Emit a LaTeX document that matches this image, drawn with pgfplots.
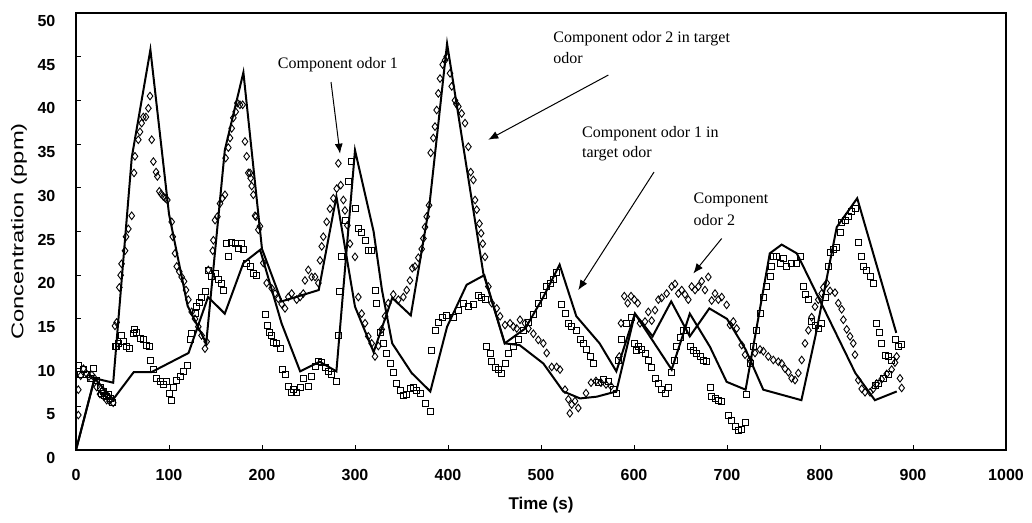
\documentclass[border=0pt]{standalone}
\usepackage{fontspec}
\setmainfont{Liberation Serif}
\setsansfont{Liberation Sans}
\usepackage{pgfplots}
\pgfplotsset{compat=1.18}
\usetikzlibrary{arrows.meta}

\begin{document}
\begin{tikzpicture}
\begin{axis}[
  scale only axis, width=465pt, height=218.5pt,
  xmin=0, xmax=1000, ymin=0, ymax=50,
  xtick={0,100,...,1000}, ytick={0,5,...,50},
  xtick pos=bottom, ytick pos=left, tick align=inside,
  major tick length=2.5pt, tick style={black, line width=0.5pt},
  axis line style={black, line width=0.6pt},
  /pgf/number format/assume math mode=true,
  /pgf/number format/1000 sep={},
  ticklabel style={font=\sffamily\bfseries\fontsize{8}{9}\selectfont},
  xticklabel style={yshift=-6pt},
  yticklabel style={xshift=-6.8pt, yshift=-4pt},
  clip=false,
]
% measured, component odor 2 (diamonds)
\addplot[only marks, mark=diamond, mark size=1.9pt, mark options={black, line width=0.45pt}] coordinates {
(2.5,4.0)(2.5,6.9)(5,8.5)(8,9.3)(11.5,8.7)(14,8.4)(17,8.6)(20,8.2)(22.2,7.2)(25.8,6.4)(27.6,6.7)(30,6.1)(33,5.7)(36,5.6)(40,5.4)
(41.9,14.2)(43.7,14.6)(46.6,18.6)(48,20)(49,21.3)(52.7,22.8)(53.8,24.4)(56.3,25.3)(59.9,26.8)(62.4,31.7)(63.4,33.6)(67,35.5)(68.8,36.4)(70.6,37.4)(72.4,38.1)(75.2,38.1)(77.8,39.1)(79.6,40.5)(81.4,35.5)(83.2,33)(86.1,31.8)(87.5,31.3)(89.6,29.6)(91.5,29.3)(93.9,29)(96,28.8)(98.2,28.6)(102.9,26.1)(104,24.4)(106.5,22.5)(108.3,21)(111.1,20.4)(113.6,19.8)(116.2,19.3)(118.3,18.3)(120.8,17.2)(124.4,15.8)(128,15)(131.5,14.1)(135.1,13.1)(138.7,11.6)(140.5,12.4)
(142.3,20.6)(147,22.8)(147.7,24)(149.5,26.3)(152,26.7)(154.8,28.2)(157.3,28.8)(160.2,29.2)(160.9,33.4)(163.8,34.6)(165.6,35.7)(167.4,36.8)(169.2,38)(171.7,38.7)(173.5,39.7)(176.3,39.5)(179.2,39.5)(181.7,35.3)(183.5,33.6)(185.3,31.7)(187.1,31.7)(187.8,31.1)(188.9,30.2)(190.7,29.2)(192.5,26.8)(193.5,26.7)(196.1,25.2)(197.8,25.6)
(201.4,21.4)(205,19.1)(210.4,18.5)(214,17.9)(217.6,17.3)(221.2,16.7)(224.7,16.2)(228.3,17.5)(231.9,17.9)(237.3,17.2)(240.9,17.5)(244.4,17.9)(246.2,19.4)(249.8,20.6)(253.4,19.8)(257,19.8)(260.6,19.1)(262.4,21.7)(264.2,23.3)(265.9,24.4)(269.5,26.1)(273.1,27.6)(276.7,28.8)(280.3,29.9)(282.1,32.8)(284.6,30.3)(287.5,28.6)(289.2,27.4)(291.8,25.7)(294.6,23.6)(300,22.1)(303.6,17.5)(307.2,15.6)(310.8,14.5)(314.3,13)(317.9,12.2)(321.5,10.7)(325.1,11.9)(328.7,13.8)(332.3,15.3)(335.8,16.8)(341.2,17.8)(346.6,17.2)(352,17.5)(355.6,18.3)(359.1,19.4)(361.6,20.8)(364.5,21)(368.1,22)(371.7,23)(373.5,24.2)(375.3,25.5)(377.1,26.7)(379.6,28)(381.4,34)(384.2,35.7)(386,37)(387.8,38.9)(389.6,40.8)(391.4,42.5)(394.3,44.1)(396.8,44.6)
(398.6,45)(402.2,43.1)(404,41.6)(407.5,40)(409,39.6)(411.1,39.3)(414.7,38.5)(418.3,37.4)(421.9,34.7)(424.4,31.8)(427.3,30.9)(429.1,28.6)(430.9,27.5)(433.8,25.9)(435.6,24.8)(437.4,23.6)(439.8,22.1)(443.4,18.7)(447,16.8)(452.4,16.2)(456,15.3)(461.3,14.3)(466.7,14.5)(470.3,14.1)(473.9,13.9)(477.4,14.9)(482.8,14.5)(486.4,13.9)(491.8,13.3)(497.1,12.6)(502.5,12.2)(506.1,11.1)(511.5,9.5)(516.8,9.5)(520.4,9.2)(525.8,6.9)(529.4,5.8)(531,4.2)(533,5.2)(536.6,5.6)(540.1,4.8)(548.4,6.5)(553.8,7.7)(559.1,7.9)(564.5,7.7)(569.9,7.5)(575.3,7.3)(584.2,10.7)(586,14.5)(589.6,17.6)(593.2,16.8)(596.8,17.6)(600.4,17.2)(604,16.8)
(606.5,14.5)(611.8,14.7)(615.4,15.8)(619,14.8)(622.6,16)(626.2,17.2)(629.7,17.4)(635.1,17.9)(640.5,18.7)(644.1,19)(647.7,17.9)(651.3,18.3)(654.8,17.8)(658.4,17.2)(662,18.7)(665.6,18.3)(669.2,18.7)(672.8,19.3)(676.3,18.3)(679.9,19.8)(683.5,17.1)(687.1,17.9)(690.7,17.2)(694.3,17.5)(699.6,16.6)(703.2,14.3)(706.8,14.7)(710.4,13.9)(715.8,12)(719.4,10.9)(724.7,10.3)(730.1,11.1)(735.5,11.5)(739.1,11.3)(744.4,10.7)(749.8,10.3)(755.2,10.1)(758.8,9.9)(762.4,9.3)(766,8.9)(769.5,8.2)(773.1,8)(776.7,8.8)(780.3,10.3)(783.9,12.2)(787.5,13.7)(791,15.2)(794.6,16.4)(798.2,17.2)(801.8,17.9)(803.6,18.6)(807.2,19.1)(810.8,18.2)(816.1,18)(819.7,16.8)(823.3,16.1)(825.1,14.9)(828.7,13.8)(832.3,13)(835.8,12.2)(837.6,10.9)(841.2,8)(844.8,7)(848.4,6.6)(853.8,6.6)(857.3,7)(860.9,7.6)(866.3,8.1)(871.7,8.7)(877,9.2)(880.6,10)(882.4,10.7)(886,8.2)(887.8,7.1)
};
% measured, component odor 1 (squares)
\addplot[only marks, mark=square, mark size=1.5pt, mark options={black, line width=0.45pt}] coordinates {
(2.5,9.7)(4.3,8.6)(7.9,9.2)(11.5,8.6)(15,8.2)(18.6,9.3)(22.2,8)(25.8,7.1)(27,6.5)(29.4,6.7)(31,6.2)(33,6.1)(35,6.3)(36.6,5.9)(39.4,5.4)
(41.9,11.8)(43.7,11.8)(45.5,12.2)(49,13.1)(50.9,12.4)(54.5,11.8)(58,11.6)(61.6,13.3)(63,13.8)(65.2,13.5)(68.8,12.8)(72.4,12.6)(76,12)(78.8,11.8)
(79.6,10.3)(83.2,9.2)(86.7,8.2)(90.3,7.8)(93.9,7.5)(97.5,7.8)(101,6.5)(102.9,5.7)(104.7,7.2)(108.3,8)(111.9,8.4)(115.4,9)(119.7,9.7)
(122.6,12.7)(124.4,13.3)(128,15.6)(129.7,16.4)(132.6,16.9)(135.1,17.5)(138.7,18.1)
(142.3,20.6)(145.9,19.8)(149.5,20.2)(153.1,19.5)(156.7,19.1)(158.5,18.3)(162.1,23.6)(163.8,22.1)(167.4,23.8)(171,23.6)(174.6,23.1)(178.2,23.6)(180,22.9)(183.5,21.4)(187.1,21)(190.7,20.2)(194.3,20)
(203.2,15.5)(205.7,14.2)(207.9,13.4)(210.4,13.1)(212.2,12.3)(215.8,12.2)(219.4,11.6)(222.2,9.2)(224.7,8.6)(228.3,7.3)(231.9,6.6)(234,6.9)(237.3,6.6)(240.9,7.1)(244.4,8.2)(249.8,7.3)(253.4,8.4)(257,9.6)(260.6,10.1)(264.2,10)(267.7,9.4)(271.3,9)(274.9,8.6)(280.3,7.8)
(282.1,13.1)(283.2,18.1)(285.7,22.1)(289.2,26.3)(292.8,30.7)(296.4,33)(301,27.6)(303.6,25.3)(307.2,24.9)(310.8,24)(314.3,22.8)(317.9,22.8)(321.5,18.3)(323.3,16.8)(326.9,13.4)(330.5,12.2)(334.1,11.1)(337.6,9.9)(341.2,8.9)(344.8,7.6)(348.4,6.8)(352,6.2)(355.6,6.4)(359.1,7)(362.7,7.2)(366.3,6.8)(369.9,6.5)(375.3,5.3)(380.6,4.4)
(382.4,11.4)(386,13.7)(389.6,14.6)(394.3,15.2)(398.6,15.4)(405.7,15.2)(411.1,16)(416.5,16.8)(421.9,16.4)(427.3,16.6)(432.7,17.7)(436.3,17.5)(439.8,17.2)
(441.6,11.8)(445.2,11.1)(447,10.1)(450.6,9.5)(454.2,9.2)(457.7,8.8)(461.3,9.9)(464.9,11.1)(470.3,11.9)(475.6,12.6)(481,13.7)(486.4,14.6)(491.8,15.5)(497.1,16.8)(502.5,17.7)(506.1,18.7)(509.7,19.1)(513.3,19.5)(516.8,20.3)
(522.2,16.6)(525.8,15.6)(529.4,14.5)(532.9,14.1)(538.4,13.7)(541.9,12.6)(545.5,12.2)(549.1,11.5)(552.7,10.7)(556.3,9.9)
(561.6,7.7)(567,8.1)(572.4,7.9)(577.8,6.9)(581.4,6.5)(583.2,10.3)(586.8,12.6)(592.1,14.5)(597.5,15.2)(602.9,11.4)
(601,12.2)(604.7,11.9)(608.2,11.5)(611.8,11.1)(615.4,10.3)(619,9.5)(622.6,8.2)(626.2,7.6)(629.7,6.9)(633.3,6.5)(636.9,7.2)(640.5,8.9)(643,10.3)(645.8,11.8)(649.5,12.9)(653,13.7)(656.6,13.7)(660.2,11.8)(663.8,11.4)(667.4,11.1)(671,10.7)(674.6,10.3)(678.1,10.1)
(681.7,7.2)(683.5,6.1)(687.1,5.9)(690.7,5.7)(694.3,5.5)
(701.4,4)(705,3.4)(708.6,2.7)(712.2,2.2)(715.8,2.4)(719.4,3.1)
(721.1,6.4)(724.7,9.9)(728.3,11.8)(731.9,13.7)(735.5,15.6)(739.1,17.5)(742.7,18.7)(746.2,19.8)(748,21)(749.8,22.1)(753.4,22.1)(757,21.4)(760.6,21.9)(764.2,21)(769.5,21.4)(774.9,21.4)(778.5,22.1)(782.1,18.7)(783.9,17.8)(787.5,17.2)(791,14.7)(794.6,14.3)(798.2,13.9)(801.8,14.5)(805.4,17.5)(809,21)
(810.8,22.6)(814.3,23)(817.9,23.2)(821.5,24.9)(823.3,26)(826.9,26.3)(830.5,26.7)(834.1,27.3)(837.6,27.6)
(841.2,23.8)(844.8,22.1)(846.6,21)(850.2,20.6)(853.8,19.8)(857.3,19.1)(860.9,14.5)(863.4,13.5)(866.3,12.2)(869.9,10.8)(873.5,10.7)(877,10.3)(880.6,12.6)(884.2,11.8)(887.8,12.1)
(859.1,7.4)(862.7,7.6)(868.1,8.2)(873.5,8.7)
};
% target, component odor 2
\addplot[black, line width=1pt, mark=none] coordinates {
(0,0)(20,8.2)(40,7.7)(60,33.5)(80,45.8)(100,27)(120,16.5)(140,12.2)(160,34.3)(180,43.2)(200,23)(221,17)(261,18.3)(280,29)(300,16.4)(320,11.2)(340,17.4)(360,15.4)(380,28)(399,46.5)(438,20.2)(461,12.2)(477,12)(502.5,9.9)(524,6.7)(542,5.9)(560,6.1)(581,6.7)(601,15.6)(640.5,9.2)(660,15.6)(681.7,11.8)(699.6,7.8)(720,6.9)(746,22.5)(758.8,23.5)(775,22.5)(782,21)(838,8.8)(859,5.7)(882.5,6.7)
};
% target, component odor 1
\addplot[black, line width=1pt, mark=none] coordinates {
(0,0)(20,8.2)(40,5.8)(62,8.9)(81,8.9)(121,11.1)(142,17.5)(160,15.6)(180,21.4)(198,22.9)(221,14.5)(241,9)(262,10.1)(280,9)(300,34.3)(320,25)(329,18.3)(340,12.2)(361,8.8)(381,6.7)(399,14.1)(420,18.9)(439,20)(461,12.2)(483,13.9)(502,17.4)(520,21.2)(538,15.3)(563,12.2)(581,9)(601,15.6)(620,13)(640,17)(660,13)(681,16.2)(700,15)(720,11.5)(739,6.9)(780,5.7)(795,13)(818,25.5)(840,28.8)(882,13.4)
};
\node[font=\fontsize{8}{9}\selectfont] at (axis cs:281.7,44.05) {Component odor 1};
\draw[-{Latex[length=5pt,width=4pt]}, line width=0.5pt] (axis cs:274.2,42.1) -- (axis cs:283.9,33.9);
\node[font=\fontsize{8}{9}\selectfont, anchor=west, inner sep=0pt] at (axis cs:512.9,47.1) {Component odor 2 in target};
\node[font=\fontsize{8}{9}\selectfont, anchor=west, inner sep=0pt] at (axis cs:512.9,44.9) {odor};
\draw[-{Latex[length=5pt,width=4pt]}, line width=0.5pt] (axis cs:572.4,42.9) -- (axis cs:443.3,35.5);
\node[font=\fontsize{8}{9}\selectfont, anchor=west, inner sep=0pt] at (axis cs:543.8,36.2) {Component odor 1 in};
\node[font=\fontsize{8}{9}\selectfont, anchor=west, inner sep=0pt] at (axis cs:543.8,33.9) {target odor};
\draw[-{Latex[length=5pt,width=4pt]}, line width=0.5pt] (axis cs:621.5,31.8) -- (axis cs:540.1,18.3);
\node[font=\fontsize{8}{9}\selectfont, anchor=west, inner sep=0pt] at (axis cs:663.8,28.6) {Component};
\node[font=\fontsize{8}{9}\selectfont, anchor=west, inner sep=0pt] at (axis cs:663.8,26.3) {odor 2};
\draw[-{Latex[length=5pt,width=4pt]}, line width=0.5pt] (axis cs:694.3,24.2) -- (axis cs:663.8,20.2);
\coordinate (bl) at (rel axis cs:0,0);
\coordinate (tr) at (rel axis cs:1,1);
\coordinate (ml) at (rel axis cs:0,0.5);
\coordinate (mb) at (rel axis cs:0.5,0);
\end{axis}
\node[font=\sffamily\bfseries\fontsize{8.5}{10}\selectfont] at ([yshift=-27.5pt]mb) {Time (s)};
\node[font=\sffamily\fontsize{8.5}{10}\selectfont, rotate=90] at ([xshift=-28.5pt]ml) {\scalebox{1.4}[1]{Concentration (ppm)}};
\pgfresetboundingbox
\path[use as bounding box] ([xshift=-38pt,yshift=-36.5pt]bl) rectangle ([xshift=13pt,yshift=6.5pt]tr);
\end{tikzpicture}
\end{document}
